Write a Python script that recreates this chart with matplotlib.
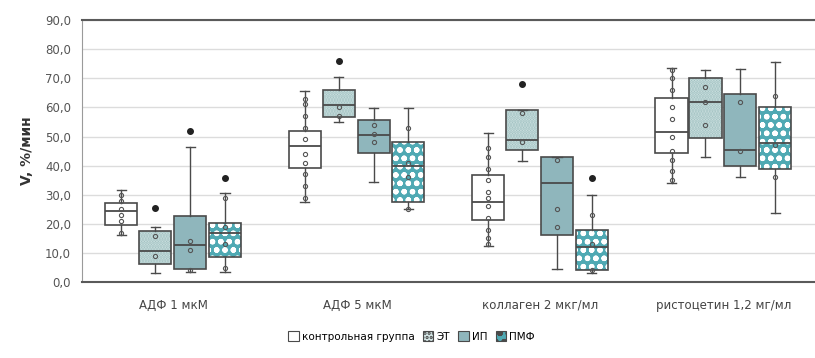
import numpy as np
import matplotlib
matplotlib.use("Agg")
import matplotlib.pyplot as plt
from matplotlib.patches import Patch, PathPatch

categories = ["АДФ 1 мкМ", "АДФ 5 мкМ", "коллаген 2 мкг/мл", "ристоцетин 1,2 мг/мл"]
series = ["контрольная группа", "ЭТ", "ИП", "ПМФ"]

# box statistics per series (one value per category)
control_lo = [16.2, 27.5, 12.4, 34.0]
control_q1 = [19.6, 39.2, 21.3, 44.3]
control_med = [24.4, 46.7, 27.5, 51.5]
control_q3 = [27.1, 51.9, 36.8, 63.2]
control_hi = [31.6, 65.6, 51.2, 73.5]
control_out = [[], [], [], []]
control_pts = [[17, 21, 23, 25, 28, 30], [29, 33, 37, 41, 44, 49, 53, 57, 61, 63],
               [13, 15, 18, 22, 26, 29, 31, 35, 39, 43, 46], [35, 38, 42, 45, 50, 56, 60, 66, 70, 73]]

et_lo = [3.1, 55.0, 41.6, 43.0]
et_q1 = [6.2, 56.7, 45.4, 49.5]
et_med = [10.7, 60.8, 48.8, 61.9]
et_q3 = [17.5, 66.0, 59.1, 70.1]
et_hi = [18.9, 70.4, 59.1, 72.9]
et_out = [[25.4], [75.9], [68.0], []]
et_pts = [[9, 16], [57, 60], [48, 58], [54, 62, 67]]

ip_lo = [3.5, 34.4, 4.5, 36.1]
ip_q1 = [4.5, 44.3, 16.2, 39.9]
ip_med = [12.7, 50.5, 34.0, 45.4]
ip_q3 = [22.7, 55.7, 43.0, 64.6]
ip_hi = [46.4, 59.8, 43.0, 73.2]
ip_out = [[51.9], [], [], []]
ip_pts = [[4, 11, 14], [48, 51, 54], [19, 25, 42], [45, 62]]

pmf_lo = [3.4, 25.0, 3.0, 23.7]
pmf_q1 = [8.6, 27.5, 4.1, 38.8]
pmf_med = [16.8, 40.0, 12.0, 47.8]
pmf_q3 = [20.3, 48.1, 17.9, 60.1]
pmf_hi = [30.5, 59.8, 29.9, 75.6]
pmf_out = [[35.7], [], [35.7], []]
pmf_pts = [[5, 13, 19, 29], [25, 36, 41, 53], [4, 13, 23], [36, 47, 64]]

yticks = [0, 10, 20, 30, 40, 50, 60, 70, 80, 90]

stats = [
    (control_lo, control_q1, control_med, control_q3, control_hi, control_out, control_pts),
    (et_lo, et_q1, et_med, et_q3, et_hi, et_out, et_pts),
    (ip_lo, ip_q1, ip_med, ip_q3, ip_hi, ip_out, ip_pts),
    (pmf_lo, pmf_q1, pmf_med, pmf_q3, pmf_hi, pmf_out, pmf_pts),
]
faces = ["white", "#d3e5e5", "#8fb6bc", "#4fa9b3"]
hatches = [None, "......", None, "oo"]
hatch_cols = [None, "#9fc0c0", None, "white"]
edge = "#4a4a4a"
offsets = [-0.285, -0.1, 0.09, 0.28]
width = 0.175

plt.rcParams["hatch.linewidth"] = 1.6

fig = plt.figure(figsize=(8.15, 3.58), dpi=100)
ax = fig.add_axes([0.1006, 0.212, 0.9, 0.732])

x = np.arange(len(categories))
for s, (lo, q1, med, q3, hi, out, pts) in enumerate(stats):
    bstats = []
    for i in range(len(categories)):
        bstats.append(dict(whislo=lo[i], q1=q1[i], med=med[i], q3=q3[i], whishi=hi[i], fliers=out[i]))
    pos = x + offsets[s]
    bp = ax.bxp(bstats, positions=pos, widths=width, patch_artist=True, showfliers=True,
                boxprops=dict(facecolor=faces[s], edgecolor=edge, linewidth=1.2),
                medianprops=dict(color=edge, linewidth=1.3),
                whiskerprops=dict(color=edge, linewidth=1.0),
                capprops=dict(color=edge, linewidth=1.0),
                capwidths=0.05,
                flierprops=dict(marker="o", markerfacecolor="#222222", markeredgecolor="#222222",
                                markersize=4))
    for b in bp["boxes"]:
        if hatches[s]:
            b.set_hatch(hatches[s])
            b.set_edgecolor(hatch_cols[s])
            b.set_linewidth(0)
            ax.add_patch(PathPatch(b.get_path(), fill=False, edgecolor=edge, linewidth=1.2,
                                   transform=b.get_transform(), zorder=b.get_zorder() + 0.1))
    for i in range(len(categories)):
        ax.plot([pos[i]] * len(pts[i]), pts[i], "o", ms=3, mfc="none", mec="#555555", mew=0.8, zorder=4)

ax.set_xlim(-0.5, 3.5)
ax.set_ylim(0, 90)
ax.set_yticks(yticks)
ax.set_yticklabels([f"{v:.1f}".replace(".", ",") for v in yticks], fontsize=8.5, color="#555555")
ax.set_xticks(x)
ax.set_xticklabels(categories, fontsize=8.5, color="#444444")
ax.tick_params(length=0, pad=8)
ax.tick_params(axis="x", pad=12)
ax.yaxis.grid(True, color="#dcdcdc", linewidth=1)
ax.set_axisbelow(True)
for side in ["left", "top", "bottom"]:
    ax.spines[side].set_color("#5a5a5a")
ax.spines["left"].set_color("#9a9a9a")
ax.spines["right"].set_visible(False)
ax.spines["top"].set_linewidth(1.5)
ax.spines["bottom"].set_linewidth(1.5)
ax.set_ylabel("V, %/мин", fontsize=10, color="#333333", fontweight="bold", labelpad=8)

leg_hatch = [None, "....", None, "oo"]
handles = [Patch(facecolor=faces[s], edgecolor=edge, hatch=leg_hatch[s], label=series[s], linewidth=0.8)
           for s in range(4)]
fig.legend(handles=handles, loc="center", bbox_to_anchor=(0.505, 0.06), ncol=4, frameon=False,
           fontsize=7.5, handlelength=1.0, handleheight=1.0, handletextpad=0.3, columnspacing=0.8)

fig.savefig("out.png", dpi=100)
